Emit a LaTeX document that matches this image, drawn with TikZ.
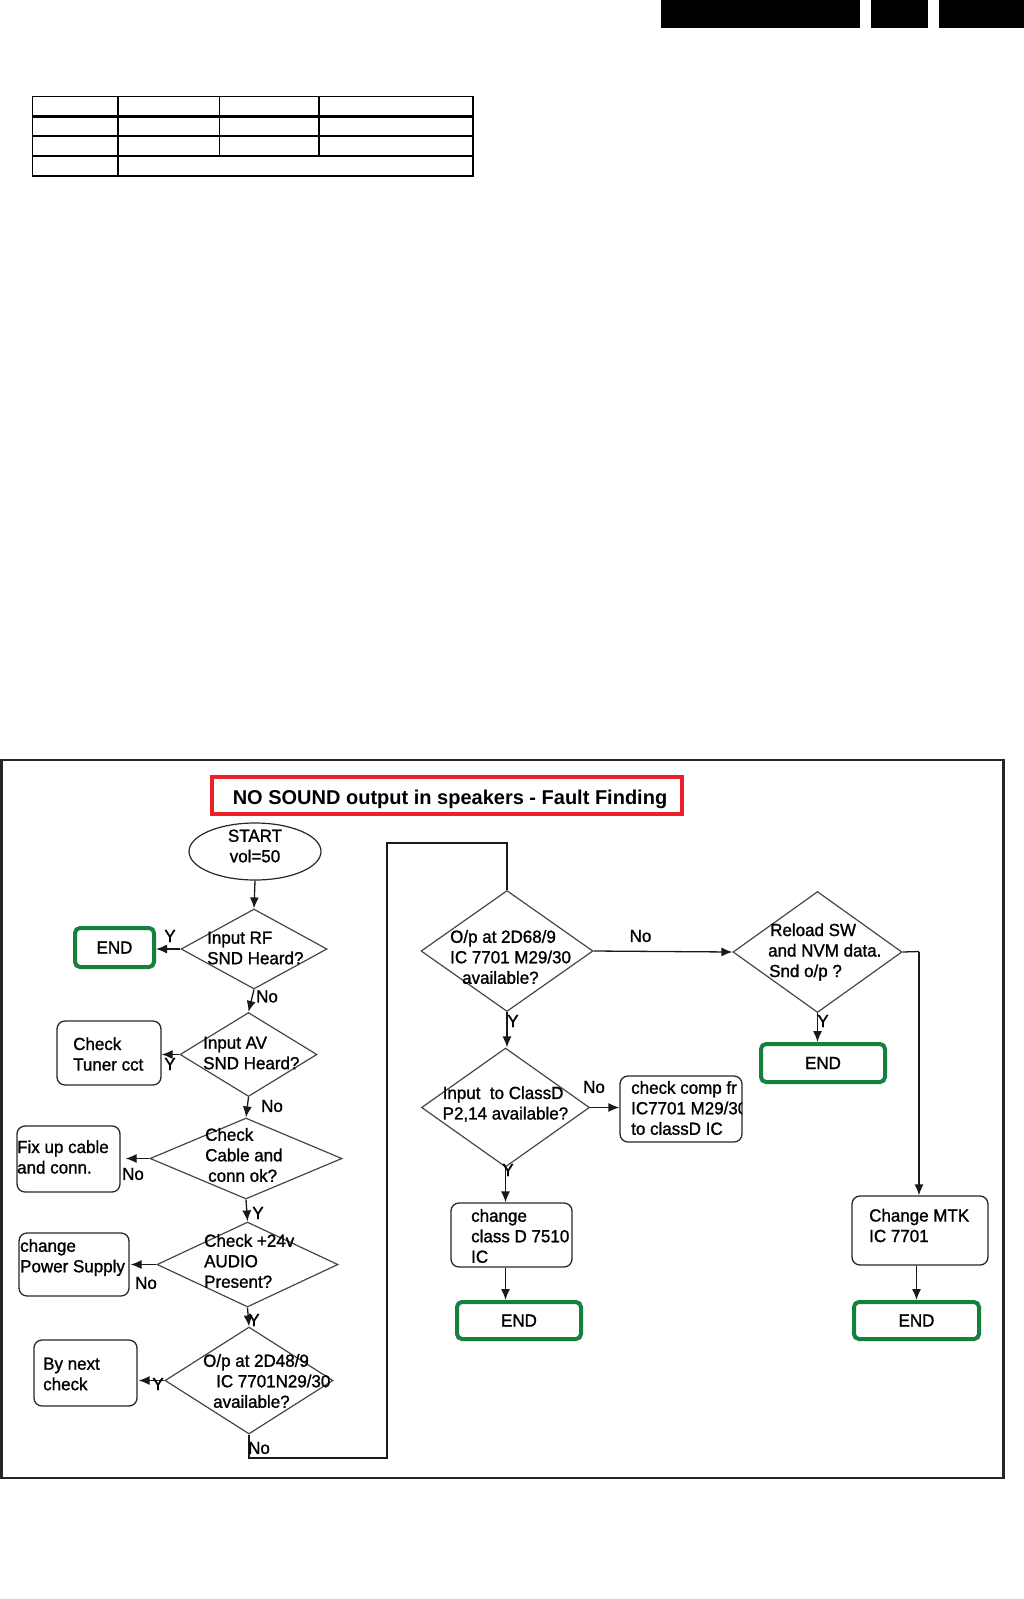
\documentclass[tikz,border=0pt]{standalone}
\usepackage{fontspec}
\setmainfont{Liberation Sans}
\newfontfamily\narrowfam[FakeStretch=0.97,FakeBold=1.2]{Liberation Sans}
\usetikzlibrary{shapes.geometric,arrows.meta}
\definecolor{endgreen}{RGB}{22,128,62}
\definecolor{titlered}{RGB}{236,32,38}
\definecolor{diagray}{RGB}{70,70,70}
\newcommand{\dfont}{\narrowfam\fontsize{17.5}{20.5}\selectfont}
\tikzset{
  dia/.style={diamond, draw=diagray, line width=1.2pt, inner sep=0pt},
  rbox/.style={rectangle, draw=black!85, line width=1.3pt, rounded corners=8pt, inner sep=0pt},
  endbox/.style={rectangle, draw=endgreen, line width=4pt, rounded corners=5pt, inner sep=0pt, font=\dfont},
  qtext/.style={inner sep=0pt, align=left, anchor=west, font=\dfont},
  lbl/.style={inner sep=0pt, font=\dfont},
  conn/.style={draw=black!90, line width=1.3pt},
  arr/.style={conn, -{Latex[length=11pt,width=9pt]}},
}
\begin{document}
\begin{tikzpicture}[x=1pt,y=-1pt]
\useasboundingbox (0,0) rectangle (1024,1599);
% header blocks
\fill (661,0) rectangle (860,27.5);
\fill (871,0) rectangle (928,27.5);
\fill (939,0) rectangle (1024,27.5);
% empty table
\draw[line width=1.3pt] (32.7,96.7) rectangle (473,176);
\draw[line width=3.5pt] (32.7,116.5) -- (473,116.5);
\draw[line width=1.3pt] (32.7,136) -- (473,136);
\draw[line width=1.3pt] (32.7,156) -- (473,156);
\draw[line width=1.3pt] (118,96.7) -- (118,176);
\draw[line width=1.3pt] (219.5,96.7) -- (219.5,156);
\draw[line width=1.3pt] (319,96.7) -- (319,156);
% frame
\draw[line width=2.5pt, draw=black!85] (1.3,760) rectangle (1003.7,1478);
% title
\node[draw=titlered, line width=4pt, minimum width=470pt, minimum height=37pt, inner sep=0pt] (title) at (447,795.5) {};
\node[inner sep=0pt, font=\bfseries\fontsize{20}{24}\selectfont] (titlet) at (450,799) {NO SOUND output in speakers - Fault Finding};
% start
\node[ellipse, draw=black!85, line width=1.2pt, minimum width=132pt, minimum height=57pt, inner sep=0pt] (start) at (255,851.5) {};
\node[inner sep=0pt, align=center, font=\dfont] (startt) at (255,846) {START\\vol=50};
% diamonds
\node[dia, minimum width=146pt, minimum height=80pt] (rf) at (254,949) {};
\node[dia, minimum width=137pt, minimum height=84pt] (av) at (248.5,1054.5) {};
\node[dia, minimum width=192pt, minimum height=81pt] (cable) at (246,1158.5) {};
\node[dia, minimum width=181pt, minimum height=85pt] (psu) at (247.5,1264.5) {};
\node[dia, minimum width=168pt, minimum height=107pt] (op) at (249,1380.5) {};
\node[dia, minimum width=172pt, minimum height=121pt] (opb) at (507,951) {};
\node[dia, minimum width=169pt, minimum height=121pt] (reload) at (817.5,952) {};
\node[dia, minimum width=168pt, minimum height=119pt] (classd) at (505.5,1107.5) {};
% diamond texts
\node[qtext] (rft) at (207,948) {Input RF\\SND Heard?};
\node[qtext] (avt) at (203,1053) {Input AV\\SND Heard?};
\node[qtext] (cablet) at (205,1155) {Check\\Cable and\\\hspace*{3pt}conn ok?};
\node[qtext] (psut) at (204,1261) {Check +24v\\AUDIO\\Present?};
\node[qtext] (opt) at (203,1381) {O/p at 2D48/9\\\hspace*{13pt}IC 7701N29/30\\\hspace*{10pt}available?};
\node[qtext] (opbt) at (450,957) {O/p at 2D68/9\\IC 7701 M29/30\\\hspace*{12pt}available?};
\node[qtext] (reloadt) at (768,952) {\hspace*{2pt}Reload SW\\and NVM data.\\\hspace*{1pt}Snd o/p ?};
\node[qtext] (classdt) at (442.5,1104) {Input\ \ to ClassD\\P2,14 available?};
% boxes
\node[endbox, minimum width=79pt, minimum height=39pt] (end1) at (114.5,947.5) {END};
\node[rbox, minimum width=104pt, minimum height=64pt] (tuner) at (109,1053) {};
\node[qtext] (tunert) at (73,1054) {Check\\Tuner cct};
\node[rbox, minimum width=103pt, minimum height=66pt] (fix) at (68.5,1159) {};
\begin{scope}
  \clip (17,1126) rectangle (120,1192);
  \node[qtext] (fixt) at (17,1157) {Fix up cable\\and conn.};
\end{scope}
\node[rbox, minimum width=110pt, minimum height=63pt] (power) at (74,1264.5) {};
\node[qtext] (powert) at (20,1257.5) {change\\Power Supply};
\node[rbox, minimum width=103pt, minimum height=66pt] (bynext) at (85.5,1373) {};
\node[qtext] (bynextt) at (43,1374) {By next\\check};
\node[endbox, minimum width=124pt, minimum height=38pt] (end2) at (823,1063) {END};
\node[rbox, minimum width=122pt, minimum height=66pt] (checkcomp) at (681,1109) {};
\begin{scope}
  \clip (620,1076) rectangle (742,1142);
  \node[qtext] (checkcompt) at (631,1108) {check comp fr\\IC7701 M29/30\\to classD IC};
\end{scope}
\node[rbox, minimum width=121pt, minimum height=64pt] (classbox) at (511.5,1235) {};
\begin{scope}
  \clip (451,1203) rectangle (572,1267);
  \node[qtext] (classboxt) at (471,1236) {change\\class D 7510\\IC};
\end{scope}
\node[endbox, minimum width=124pt, minimum height=37pt] (end3) at (519,1320.5) {END};
\node[rbox, minimum width=136pt, minimum height=69pt] (mtk) at (920,1230.5) {};
\node[qtext] (mtkt) at (869,1225.5) {Change MTK\\IC 7701};
\node[endbox, minimum width=125pt, minimum height=37pt] (end4) at (916.5,1320.5) {END};
% coordinates
\coordinate (loopA) at (387,1458);
\coordinate (loopB) at (387,843);
\coordinate (rcorner) at (919,951.5);
% connectors
\draw[arr] (start.south) -- (rf.north);
\draw[arr] (rf.west) -- (rf.west -| end1.east);
\draw[arr] (rf.south) -- (av.north);
\draw[arr] (av.west) -- (av.west -| tuner.east);
\draw[arr] (av.south) -- (cable.north);
\draw[arr] (cable.west) -- ([xshift=5pt]cable.west -| fix.east);
\draw[arr] (cable.south) -- (psu.north);
\draw[arr] (psu.west) -- ([xshift=1pt]psu.west -| power.east);
\draw[arr] (psu.south) -- (op.north);
\draw[arr] (op.west) -- ([xshift=1pt]op.west -| bynext.east);
\draw[conn] (op.south) |- (loopA) -- (loopB) -| (opb.north);
\draw[arr] (opb.east) -- (reload.west);
\draw[arr] (opb.south) -- (opb.south |- classd.north);
\draw[arr] (reload.south) -- (reload.south |- end2.north);
\draw[conn] (reload.east) -- (rcorner);
\draw[arr] (rcorner) -- (rcorner |- mtk.north);
\draw[arr] (classd.east) -- (classd.east -| checkcomp.west);
\draw[arr] (classd.south) -- (classd.south |- classbox.north);
\draw[arr] (classd.south |- classbox.south) -- (classd.south |- end3.north);
\draw[arr] (end4.north |- mtk.south) -- (end4.north);
% labels
\node[lbl] (l1) at (170,936) {Y};
\node[lbl] (l2) at (267,996.5) {No};
\node[lbl] (l3) at (170,1064) {Y};
\node[lbl] (l4) at (272,1106) {No};
\node[lbl] (l5) at (133,1174) {No};
\node[lbl] (l6) at (258,1213) {Y};
\node[lbl] (l7) at (146,1283) {No};
\node[lbl] (l8) at (254,1320) {Y};
\node[lbl] (l9) at (158,1384) {Y};
\node[lbl] (l10) at (259,1448) {No};
\node[lbl] (l11) at (640.5,936) {No};
\node[lbl] (l12) at (513,1021) {Y};
\node[lbl] (l13) at (823,1021) {Y};
\node[lbl] (l14) at (594,1087) {No};
\node[lbl] (l15) at (508,1170) {Y};
\end{tikzpicture}
\end{document}
